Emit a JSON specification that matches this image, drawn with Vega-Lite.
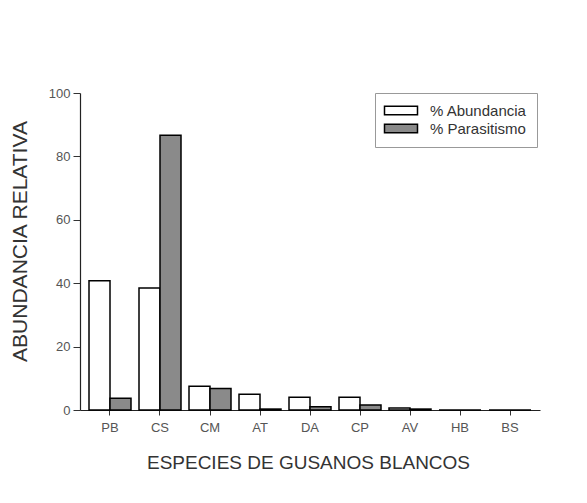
{
  "$schema": "https://vega.github.io/schema/vega-lite/v6.json",
  "width": 460,
  "height": 317,
  "autosize": {"type": "none"},
  "padding": {"left": 80, "top": 93, "right": 47, "bottom": 93},
  "background": "white",
  "config": {"view": {"stroke": null}, "font": "Liberation Sans"},
  "data": {
    "values": [
      {"especie": "PB", "serie": "% Abundancia", "valor": 40.8},
      {"especie": "PB", "serie": "% Parasitismo", "valor": 3.7},
      {"especie": "CS", "serie": "% Abundancia", "valor": 38.5},
      {"especie": "CS", "serie": "% Parasitismo", "valor": 86.7},
      {"especie": "CM", "serie": "% Abundancia", "valor": 7.5},
      {"especie": "CM", "serie": "% Parasitismo", "valor": 6.8},
      {"especie": "AT", "serie": "% Abundancia", "valor": 5.0},
      {"especie": "AT", "serie": "% Parasitismo", "valor": 0.3},
      {"especie": "DA", "serie": "% Abundancia", "valor": 4.0},
      {"especie": "DA", "serie": "% Parasitismo", "valor": 1.0},
      {"especie": "CP", "serie": "% Abundancia", "valor": 4.0},
      {"especie": "CP", "serie": "% Parasitismo", "valor": 1.6},
      {"especie": "AV", "serie": "% Abundancia", "valor": 0.6},
      {"especie": "AV", "serie": "% Parasitismo", "valor": 0.3},
      {"especie": "HB", "serie": "% Abundancia", "valor": 0},
      {"especie": "HB", "serie": "% Parasitismo", "valor": 0},
      {"especie": "BS", "serie": "% Abundancia", "valor": 0},
      {"especie": "BS", "serie": "% Parasitismo", "valor": 0}
    ]
  },
  "mark": {"type": "bar", "stroke": "black", "strokeWidth": 1.5},
  "encoding": {
    "x": {
      "field": "especie",
      "type": "nominal",
      "sort": ["PB", "CS", "CM", "AT", "DA", "CP", "AV", "HB", "BS"],
      "scale": {"paddingInner": 0.16, "paddingOuter": 0.18},
      "axis": {
        "title": "ESPECIES DE GUSANOS BLANCOS",
        "titleFont": "Liberation Sans",
        "titleFontSize": 19,
        "titleFontWeight": "normal",
        "titleColor": "#333",
        "titleX": 228,
        "titleY": 52,
        "titleBaseline": "middle",
        "labelAngle": 0,
        "labelFontSize": 13,
        "labelColor": "#555",
        "labelPadding": 6,
        "tickSize": 5,
        "tickColor": "#333",
        "domainColor": "#222",
        "domainWidth": 1.2
      }
    },
    "xOffset": {"field": "serie", "sort": ["% Abundancia", "% Parasitismo"]},
    "y": {
      "field": "valor",
      "type": "quantitative",
      "scale": {"domain": [0, 100], "nice": false},
      "axis": {
        "values": [0, 20, 40, 60, 80, 100],
        "title": "ABUNDANCIA RELATIVA",
        "titleFont": "Liberation Sans",
        "titleFontSize": 21,
        "titleFontWeight": "normal",
        "titleColor": "#333",
        "titleX": -60,
        "titleY": 148,
        "titleBaseline": "middle",
        "titleAngle": -90,
        "labelFontSize": 13,
        "labelColor": "#555",
        "labelPadding": 3,
        "tickSize": 7,
        "tickColor": "#333",
        "domainColor": "#222",
        "domainWidth": 1.2,
        "grid": false
      }
    },
    "fill": {
      "field": "serie",
      "type": "nominal",
      "sort": ["% Abundancia", "% Parasitismo"],
      "scale": {"range": ["white", "#8a8a8a"]},
      "legend": {
        "title": null,
        "orient": "none",
        "legendX": 295,
        "legendY": 0,
        "padding": 10,
        "strokeColor": "#999",
        "fillColor": "white",
        "symbolType": "M-1.6,-0.85L5,-0.85L5,0.85L-1.6,0.85Z",
        "symbolSize": 100,
        "symbolStrokeColor": "black",
        "symbolStrokeWidth": 1.5,
        "labelFont": "Liberation Sans",
        "labelFontSize": 15,
        "labelColor": "#333",
        "labelOffset": 30,
        "rowPadding": 2
      }
    }
  }
}
